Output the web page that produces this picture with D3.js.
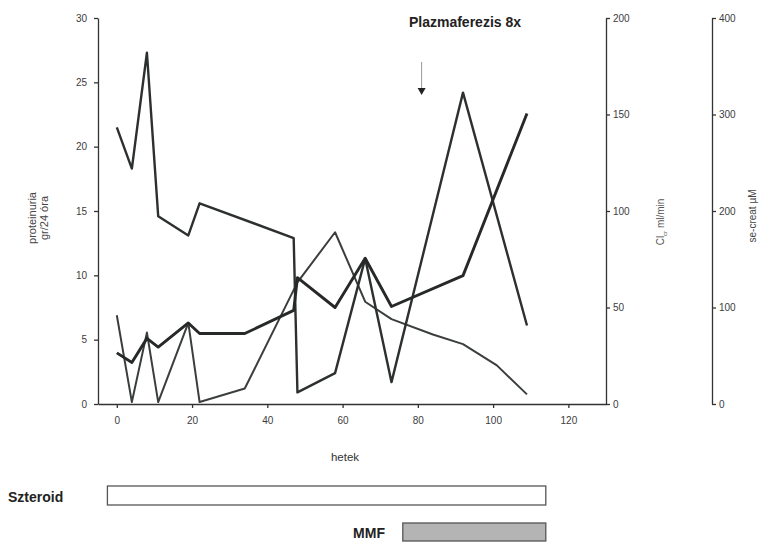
<!DOCTYPE html>
<html>
<head>
<meta charset="utf-8">
<script src="https://cdn.jsdelivr.net/npm/d3@7/dist/d3.min.js"></script>
<style>
  body { margin: 0; background: #fff; }
  svg { display: block; font-family: "Liberation Sans Narrow", "Liberation Sans", Arial, sans-serif; }
  .tick text { fill: #3c3c3c; font-size: 10px; }
  .domain, .tick line { stroke: #333; stroke-width: 1.3px; }
</style>
</head>
<body>
<svg id="chart" width="776" height="548"></svg>
<script>
// Proteinuria (g/24 h), left axis
const protWeeks  = [0, 4, 8, 11, 19, 22, 47, 48, 58, 66, 73, 92, 109];
const protValues = [21.5, 18.3, 27.3, 14.6, 13.1, 15.6, 12.9, 0.9, 2.4, 11.3, 1.7, 24.2, 6.1];

// Clearance (ml/min), first right axis
const clWeeks  = [0, 4, 8, 11, 19, 22, 34, 48, 58, 66, 73, 84, 92, 101, 109];
const clValues = [46, 1, 37, 1, 42, 1, 8, 63, 89, 53, 44, 36, 31, 20, 5];

// Serum creatinine (µM), second right axis
const creatWeeks  = [0, 4, 8, 11, 19, 22, 34, 47, 48, 58, 66, 73, 92, 109];
const creatValues = [53, 43, 68, 59, 84, 73, 73, 97, 131, 100, 151, 101, 133, 301];

// Axis ticks
const weekTicks  = [0, 20, 40, 60, 80, 100, 120];
const protTicks  = [0, 5, 10, 15, 20, 25, 30];
const clTicks    = [0, 50, 100, 150, 200];
const creatTicks = [0, 100, 200, 300, 400];

// Plasmapheresis start and therapy periods (weeks)
const plasmaWeek = 81;
const therapyNames = ["Szteroid", "MMF"];
const therapyStart = [-2.5, 76];
const therapyEnd   = [114, 114];

const svg = d3.select("#chart");

const x = d3.scaleLinear().domain([-5, 130]).range([98, 606]);
const yProt  = d3.scaleLinear().domain([0, 30]).range([404, 18]);
const yCl    = d3.scaleLinear().domain([0, 200]).range([404, 18]);
const yCreat = d3.scaleLinear().domain([0, 400]).range([404, 18]);

// Axes
svg.append("g")
  .attr("transform", "translate(0,404)")
  .call(d3.axisBottom(x).tickValues(weekTicks).tickSize(4).tickSizeOuter(0).tickPadding(9));

svg.append("g")
  .attr("transform", "translate(98,0)")
  .call(d3.axisLeft(yProt).tickValues(protTicks).tickSize(4).tickSizeOuter(0).tickPadding(7));

svg.append("g")
  .attr("transform", "translate(606,0)")
  .call(d3.axisRight(yCl).tickValues(clTicks).tickSize(4).tickSizeOuter(0).tickPadding(3));

svg.append("g")
  .attr("transform", "translate(712,0)")
  .call(d3.axisRight(yCreat).tickValues(creatTicks).tickSize(4).tickSizeOuter(0).tickPadding(3));

// Axis titles
svg.append("text")
  .attr("x", 345).attr("y", 461)
  .attr("text-anchor", "middle")
  .attr("font-size", 11.5).attr("fill", "#333")
  .text("hetek");

const protTitle = svg.append("text")
  .attr("transform", "translate(36,218) rotate(-90)")
  .attr("text-anchor", "middle")
  .attr("font-size", 11).attr("fill", "#444");
protTitle.append("tspan").attr("x", 0).attr("dy", 0).text("proteinuria");
protTitle.append("tspan").attr("x", 0).attr("dy", 12).text("gr/24 óra");

const clTitle = svg.append("text")
  .attr("transform", "translate(664,222) rotate(-90)")
  .attr("text-anchor", "middle")
  .attr("font-size", 10).attr("fill", "#555");
clTitle.append("tspan").text("Cl");
clTitle.append("tspan").attr("font-size", 6).attr("dy", 3).text("cr");
clTitle.append("tspan").attr("dy", -3).text(" ml/min");

svg.append("text")
  .attr("transform", "translate(756,216) rotate(-90)")
  .attr("text-anchor", "middle")
  .attr("font-size", 10).attr("fill", "#444")
  .text("se-creat µM");

// Series lines
function drawSeries(weeks, values, yScale, width, color) {
  const pts = weeks.map((w, i) => [w, values[i]]);
  svg.append("path")
    .datum(pts)
    .attr("fill", "none")
    .attr("stroke", color)
    .attr("stroke-width", width)
    .attr("stroke-linejoin", "round")
    .attr("d", d3.line().x(d => x(d[0])).y(d => yScale(d[1])));
}
drawSeries(clWeeks, clValues, yCl, 2.0, "#3a3f3c");
drawSeries(protWeeks, protValues, yProt, 2.4, "#2c302e");
drawSeries(creatWeeks, creatValues, yCreat, 2.9, "#262927");

// Plasmapheresis marker
svg.append("text")
  .attr("x", 465).attr("y", 27)
  .attr("text-anchor", "middle")
  .attr("font-family", "Liberation Sans, Arial, sans-serif")
  .attr("font-weight", "bold").attr("font-size", 14).attr("fill", "#222")
  .text("Plazmaferezis 8x");

const ax = x(plasmaWeek);
svg.append("line")
  .attr("x1", ax).attr("x2", ax).attr("y1", 62).attr("y2", 88)
  .attr("stroke", "#999").attr("stroke-width", 1);
svg.append("path")
  .attr("d", `M${ax - 4},88 L${ax + 4},88 L${ax},95 Z`)
  .attr("fill", "#222");

// Therapy bars
const barY = [486, 523];
const barH = [19, 18];
const barFill = ["#fff", "#b4b4b4"];
therapyNames.forEach((name, i) => {
  svg.append("rect")
    .attr("x", x(therapyStart[i])).attr("y", barY[i])
    .attr("width", x(therapyEnd[i]) - x(therapyStart[i]))
    .attr("height", barH[i])
    .attr("fill", barFill[i])
    .attr("stroke", "#555").attr("stroke-width", 1.3);
});
svg.append("text")
  .attr("x", 8).attr("y", 502)
  .attr("font-family", "Liberation Sans, Arial, sans-serif")
  .attr("font-weight", "bold").attr("font-size", 14).attr("fill", "#222")
  .text(therapyNames[0]);
svg.append("text")
  .attr("x", 385).attr("y", 538)
  .attr("text-anchor", "end")
  .attr("font-family", "Liberation Sans, Arial, sans-serif")
  .attr("font-weight", "bold").attr("font-size", 14).attr("fill", "#222")
  .text(therapyNames[1]);
</script>
</body>
</html>
